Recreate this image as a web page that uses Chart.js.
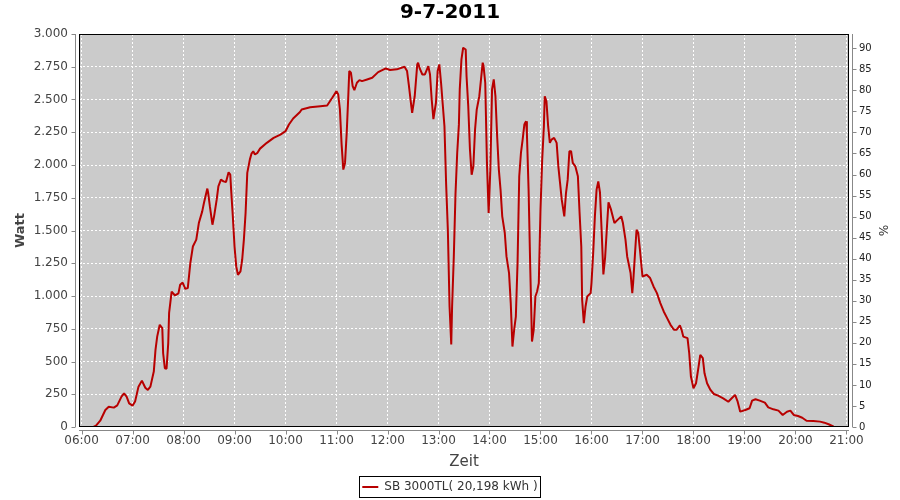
<!DOCTYPE html>
<html>
<head>
<meta charset="utf-8">
<title>9-7-2011</title>
<script src="https://cdn.jsdelivr.net/npm/chart.js@4.4.1/dist/chart.umd.min.js"></script>
<style>
  body { margin: 0; background: #fff; }
  canvas { display: block; }
</style>
</head>
<body>
<canvas id="powerChart" width="900" height="500"></canvas>
<script>
// sample times (HH:MM) and inverter output in W, one line per hour
const times = [
  '06:14','06:17','06:22','06:28','06:32','06:38','06:42','06:47','06:50','06:53','06:56',
  '07:00','07:03','07:07','07:11','07:15','07:18','07:21','07:25','07:27','07:29','07:32','07:35','07:36','07:38','07:40','07:42','07:43','07:46','07:50','07:54','07:56','07:59',
  '08:02','08:05','08:08','08:11','08:15','08:18','08:22','08:24','08:28','08:29','08:31','08:34','08:36','08:39','08:41','08:44','08:47','08:50','08:53','08:55','08:56','08:58',
  '09:00','09:02','09:04','09:07','09:09','09:11','09:13','09:15','09:18','09:20','09:22','09:24','09:27','09:30','09:38','09:46','09:54',
  '10:00','10:04','10:09','10:17','10:19','10:29','10:41','10:49','10:55',
  '11:00','11:02','11:04','11:06','11:08','11:10','11:12','11:14','11:15','11:17','11:19','11:21','11:24','11:27','11:30','11:36','11:42','11:49','11:58',
  '12:03','12:11','12:20','12:23','12:25','12:28','12:29','12:32','12:35','12:36','12:38','12:41','12:44','12:48','12:50','12:52','12:54','12:57','12:59',
  '13:01','13:03','13:05','13:07','13:09','13:11','13:13','13:15','13:16','13:18','13:20','13:22','13:24','13:25','13:27','13:29','13:32','13:33','13:35','13:37','13:39','13:41','13:43','13:45','13:48','13:50','13:52','13:53','13:55','13:57','13:59',
  '14:01','14:03','14:05','14:07','14:09','14:11','14:13','14:15','14:18','14:20','14:23','14:25','14:27','14:29','14:31','14:33','14:35','14:37','14:39','14:41','14:43','14:44','14:46','14:48','14:50','14:52','14:54','14:56','14:58',
  '15:00','15:02','15:04','15:05','15:07','15:09','15:11','15:13','15:16','15:19','15:21','15:23','15:25','15:28','15:30','15:32','15:34','15:36','15:38','15:41','15:44','15:46','15:48','15:49','15:51','15:53','15:55','15:59',
  '16:00','16:02','16:04','16:06','16:08','16:10','16:12','16:14','16:16','16:18','16:20','16:23','16:27','16:31','16:35','16:37','16:40','16:42','16:46','16:48','16:49','16:51','16:53','16:55','16:57',
  '17:00','17:05','17:09','17:13','17:17','17:21','17:25','17:29','17:33','17:37','17:40','17:44','17:46','17:48','17:53','17:55','17:57',
  '18:00','18:03','18:06','18:08','18:11','18:13','18:16','18:20','18:24','18:29','18:35','18:41','18:45','18:49','18:52','18:55',
  '19:01','19:06','19:09','19:13','19:18','19:24','19:28','19:34','19:40','19:45','19:50','19:54','19:58',
  '20:03','20:08','20:13','20:21','20:29','20:34','20:39','20:45'
];
const watts = [
  0,10,48,130,155,148,165,232,257,232,180,
  163,194,308,354,300,283,308,423,589,690,780,755,563,449,445,640,869,1034,1004,1020,1086,1103,
  1055,1060,1251,1378,1430,1557,1646,1710,1820,1786,1684,1544,1610,1735,1837,1888,1875,1870,1944,1926,1812,1608,
  1378,1226,1162,1188,1277,1430,1634,1940,2041,2087,2105,2080,2093,2125,2169,2207,2232,
  2258,2309,2355,2405,2424,2441,2449,2454,2513,
  2564,2539,2424,2156,1965,2016,2245,2551,2717,2704,2602,2571,2628,2648,2640,2653,2666,2709,2737,
  2725,2730,2750,2717,2615,2449,2398,2525,2768,2781,2735,2691,2691,2755,2691,2500,2350,2475,2717,
  2768,2628,2462,2296,1850,1506,920,630,920,1300,1780,2092,2310,2577,2806,2895,2882,2678,2449,2118,1926,1990,2271,2424,2525,2653,2781,2755,2628,2016,1634,
  1965,2577,2653,2525,2219,1965,1812,1608,1481,1302,1175,946,614,742,843,1251,1914,2092,2194,2309,2334,2245,1812,1200,652,742,996,1034,1098,
  1659,2041,2296,2525,2487,2296,2169,2194,2207,2169,1990,1863,1735,1608,1786,1888,2105,2105,2016,1990,1914,1634,1378,971,793,920,996,1022,
  1098,1328,1608,1812,1875,1790,1490,1165,1290,1506,1715,1659,1557,1583,1608,1557,1430,1302,1175,1022,1098,1302,1506,1481,1353,
  1149,1162,1137,1073,1022,946,882,831,780,742,742,775,742,690,678,563,385,
  296,334,461,550,525,410,334,283,252,239,219,193,219,245,193,117,
  130,143,201,212,201,186,150,135,125,92,117,125,92,
  84,71,48,46,41,33,21,2
];
const hourLabels = ['06:00','07:00','08:00','09:00','10:00','11:00','12:00','13:00',
                    '14:00','15:00','16:00','17:00','18:00','19:00','20:00','21:00'];
const timeRange = ['05:57', '21:03'];
const wattMax = 3000;
const percentMax = 93.4;
const seriesLabel = 'SB 3000TL( 20,198 kWh )';

const toMinutes = s => { const [h, m] = s.split(':').map(Number); return h * 60 + m; };
const pad2 = n => String(n).padStart(2, '0');
const fmtTime = v => pad2(Math.floor(v / 60)) + ':' + pad2(Math.round(v % 60));
const fmtWatt = v => String(v).replace(/\B(?=(\d{3})+(?!\d))/g, '.');

const points = times.map((t, i) => ({ x: toMinutes(t), y: watts[i] }));

const FONT = 'DejaVu Sans';

// grey plot, black frame, JFreeChart-like offset axis lines and a boxed legend
const jfreeLook = {
  id: 'jfreeLook',
  beforeDraw(chart) {
    const { ctx, chartArea: a } = chart;
    ctx.save();
    ctx.fillStyle = '#cbcbcb';
    ctx.fillRect(a.left, a.top, a.right - a.left, a.bottom - a.top);
    ctx.restore();
  },
  afterDraw(chart) {
    const { ctx, chartArea: a, scales } = chart;
    ctx.save();
    ctx.lineWidth = 1;
    ctx.strokeStyle = '#000';
    ctx.strokeRect(a.left + 0.5, a.top + 0.5, a.right - a.left - 1, a.bottom - a.top - 1);

    ctx.strokeStyle = '#888';
    ctx.beginPath();
    const lx = a.left - 3.5;
    ctx.moveTo(lx, a.top); ctx.lineTo(lx, a.bottom);
    scales.y.ticks.forEach(t => {
      const py = Math.round(scales.y.getPixelForValue(t.value)) + 0.5;
      ctx.moveTo(lx - 4, py); ctx.lineTo(lx, py);
    });
    const rx = a.right + 3.5;
    ctx.moveTo(rx, a.top); ctx.lineTo(rx, a.bottom);
    scales.y1.ticks.forEach(t => {
      const py = Math.round(scales.y1.getPixelForValue(t.value)) + 0.5;
      ctx.moveTo(rx, py); ctx.lineTo(rx + 4, py);
    });
    const by = a.bottom + 3.5;
    ctx.moveTo(a.left, by); ctx.lineTo(a.right, by);
    scales.x.ticks.forEach(t => {
      const px = Math.round(scales.x.getPixelForValue(t.value)) + 0.5;
      ctx.moveTo(px, by); ctx.lineTo(px, by + 4);
    });
    ctx.stroke();

    const hb = chart.legend.legendHitBoxes[0];
    if (hb) {
      const cy = Math.round(hb.top + hb.height / 2);
      ctx.strokeStyle = '#000';
      ctx.strokeRect(Math.round(hb.left) - 2.5, cy - 10.5,
                     Math.round(hb.width) + 6, 21);
    }
    ctx.restore();
  }
};

new Chart(document.getElementById('powerChart'), {
  type: 'line',
  data: {
    datasets: [{
      label: seriesLabel,
      data: points,
      borderColor: '#b80000',
      backgroundColor: '#b80000',
      borderWidth: 2,
      borderJoinStyle: 'bevel',
      pointRadius: 0,
      tension: 0,
      fill: false
    }]
  },
  options: {
    responsive: false,
    animation: false,
    devicePixelRatio: 1,
    layout: { padding: { left: 0, right: 0, top: 0, bottom: -3 } },
    scales: {
      x: {
        type: 'linear',
        min: toMinutes(timeRange[0]),
        max: toMinutes(timeRange[1]),
        afterBuildTicks: scale => { scale.ticks = hourLabels.map(l => ({ value: toMinutes(l) })); },
        afterFit: scale => { scale.height = 44; },
        grid: { color: '#ffffff', drawTicks: false },
        border: { display: false, dash: [2, 2] },
        ticks: {
          autoSkip: false, maxRotation: 0, padding: 7,
          color: '#444', font: { family: FONT, size: 12 },
          callback: v => fmtTime(v)
        },
        title: {
          display: true, text: 'Zeit', color: '#444',
          font: { family: FONT, size: 15 }, padding: { top: 0, bottom: 0 }
        }
      },
      y: {
        position: 'left',
        min: 0, max: wattMax,
        afterFit: scale => { scale.width = 79; },
        grid: { color: '#ffffff', drawTicks: false },
        border: { display: false, dash: [2, 2] },
        ticks: {
          stepSize: 250, padding: 11,
          color: '#444', font: { family: FONT, size: 12 },
          callback: v => fmtWatt(v)
        },
        title: {
          display: true, text: 'Watt', color: '#444',
          font: { family: FONT, size: 13, weight: 'bold' }, padding: { top: 13, bottom: 0 }
        }
      },
      y1: {
        position: 'right',
        min: 0, max: percentMax,
        afterFit: scale => { scale.width = 51; },
        grid: { display: false, drawTicks: false },
        border: { display: false },
        ticks: {
          stepSize: 5, includeBounds: false, padding: 10,
          color: '#222', font: { family: FONT, size: 10 }
        },
        title: {
          display: true, text: '%', color: '#333',
          font: { family: FONT, size: 12 }, padding: { top: 11, bottom: 0 }
        }
      }
    },
    plugins: {
      title: {
        display: true, text: '9-7-2011', color: '#000',
        font: { family: FONT, size: 20, weight: 'bold' },
        padding: { top: 1, bottom: 9 }
      },
      legend: {
        position: 'bottom',
        labels: {
          usePointStyle: true, pointStyle: 'line', pointStyleWidth: 16,
          padding: 10, color: '#333', font: { family: FONT, size: 12 }
        }
      },
      tooltip: { enabled: false }
    }
  },
  plugins: [jfreeLook]
});
</script>
</body>
</html>
